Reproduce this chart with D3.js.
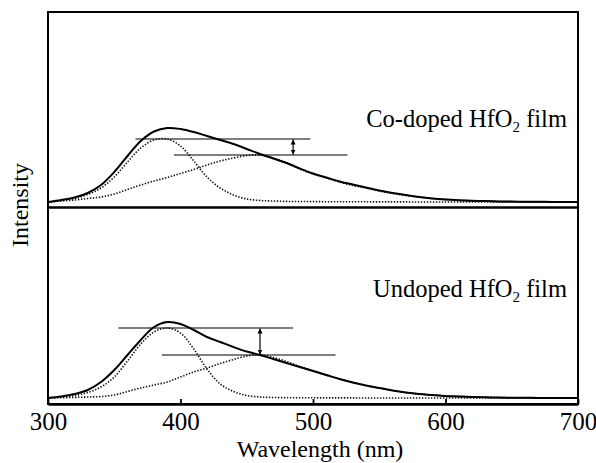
<!DOCTYPE html>
<html>
  <head>
    <style>
      body { margin: 0; background: #fff; }
      svg { font-family: "Liberation Serif", "DejaVu Serif", serif; }
      .total { fill: none; stroke: #000; stroke-width: 2; }
      .peak { fill: none; stroke: #111; stroke-width: 1.6; stroke-dasharray: 1.4,1.6; }
      .level { stroke: #000; stroke-width: 1.1; }
      .frame { fill: none; stroke: #000; stroke-width: 2; }
    </style>
  </head>
  <body>
    <svg width="596" height="463"></svg>
    <script src="https://d3js.org/d3.v7.min.js"></script>
    <script>
      // wavelength grid (nm)
      const wavelength = [300, 310, 320, 330, 340, 350, 360, 370, 380, 390, 400, 410, 420, 430, 440, 450, 460, 470, 480, 490, 500,
                          510, 520, 530, 540, 550, 560, 570, 580, 590, 600, 610, 620, 630, 640, 650, 660, 670, 680, 690, 700];

      // Co-doped film (arb. units)
      const coTotal = [0, 2, 4.5, 9, 17, 30, 46, 61, 70.5, 74, 73, 70, 66, 62, 58, 53, 48, 43.5, 39, 33.5, 28.5,
                       24.5, 20.5, 17.5, 14.5, 11.5, 9, 7, 5, 3.5, 2.5, 1.8, 1.3, 0.9, 0.6, 0.4, 0.3, 0.2, 0.1, 0, 0];
      const coPeak1 = [0, 1.5, 3.5, 7.5, 14, 25, 40, 54, 62, 63, 56, 41, 25, 14, 7, 3, 1.5, 1, 0.6, 0.5, 0.4,
                       0.3, 0.3, 0.2, 0.2, 0.1, 0.1, 0.1, 0, 0, 0, 0, 0, 0, 0, 0, 0, 0, 0, 0, 0];
      const coPeak2 = [0, 1, 2, 3.5, 5, 8, 12.5, 17, 21, 24.5, 28.5, 32.5, 37, 41, 44, 46.5, 47, 44, 39.5, 33, 28,
                       24, 20, 16.5, 14, 11, 8.5, 6.5, 5, 3.5, 2.5, 1.8, 1.2, 0.8, 0.5, 0.3, 0.2, 0.1, 0, 0, 0];
      const coLevels = [[63, 366, 498], [47, 395, 526]];   // [value, from nm, to nm]
      const coArrow = 485;

      // Undoped film (arb. units)
      const unTotal = [0, 1.5, 4, 8, 16, 28, 43, 58, 71, 76, 74, 68, 61, 56, 51, 46.5, 43, 39, 35, 31, 27,
                       23, 19, 15.5, 12.5, 10, 7.5, 5.5, 4, 3, 2, 1.5, 1, 0.7, 0.5, 0.3, 0.2, 0.1, 0, 0, 0];
      const unPeak1 = [0, 1, 2.5, 5.5, 11, 21, 37, 54, 66, 70, 65, 49, 29, 14, 6.5, 2.5, 1, 0.5, 0.3, 0.2, 0.2,
                       0.1, 0.1, 0.1, 0, 0, 0, 0, 0, 0, 0, 0, 0, 0, 0, 0, 0, 0, 0, 0, 0];
      const unPeak2 = [0, 0.3, 0.6, 1, 1.5, 3, 6.5, 10, 13, 16, 21, 26, 30, 34.5, 38.5, 42, 43, 40.5, 36.5, 31.5, 27.5,
                       23, 19, 15.5, 12.5, 10, 7.5, 5.5, 4, 3, 2, 1.4, 1, 0.7, 0.4, 0.3, 0.2, 0.1, 0, 0, 0];
      const unLevels = [[70, 353, 485], [43, 386, 517]];
      const unArrow = 460;

      const xTicks = [300, 400, 500, 600, 700];

      const svg = d3.select('svg');
      const plotLeft = 48, plotRight = 578, plotTop = 12, plotMid = 207.5, plotBottom = 404;

      const x = d3.scaleLinear().domain([300, 700]).range([plotLeft, plotRight]);
      const yCo = d3.scaleLinear().domain([0, 190]).range([202, 12]);
      const yUn = d3.scaleLinear().domain([0, 190]).range([398, 208]);

      const defs = svg.append('defs');
      ['start', 'end'].forEach(function(k) {
        defs.append('marker')
          .attr('id', 'head-' + k)
          .attr('viewBox', '0 0 10 10')
          .attr('refX', 10).attr('refY', 5)
          .attr('markerWidth', 5).attr('markerHeight', 7)
          .attr('markerUnits', 'userSpaceOnUse')
          .attr('orient', k == 'start' ? 'auto-start-reverse' : 'auto')
          .append('path')
          .attr('d', 'M0,0L10,5L0,10z')
          .attr('fill', '#000');
      });

      function drawPanel(y, total, p1, p2, levels, arrowAt, label) {
        const line = d3.line()
          .x((d, i) => x(wavelength[i]))
          .y(d => y(Math.max(0, d)))
          .curve(d3.curveCatmullRom.alpha(0.5));

        const g = svg.append('g');
        g.append('path').attr('class', 'peak').attr('d', line(p1));
        g.append('path').attr('class', 'peak').attr('d', line(p2));
        g.append('path').attr('class', 'total').attr('d', line(total));

        g.selectAll('line.level')
          .data(levels)
          .enter()
          .append('line')
          .attr('class', 'level')
          .attr('x1', d => x(d[1]))
          .attr('x2', d => x(d[2]))
          .attr('y1', d => y(d[0]))
          .attr('y2', d => y(d[0]));

        g.append('line')
          .attr('x1', x(arrowAt)).attr('x2', x(arrowAt))
          .attr('y1', y(levels[0][0]) + 0.5)
          .attr('y2', y(levels[1][0]) - 0.5)
          .attr('stroke', '#000')
          .attr('stroke-width', 1.2)
          .attr('marker-start', 'url(#head-start)')
          .attr('marker-end', 'url(#head-end)');

        const t = g.append('text')
          .attr('x', 567)
          .attr('y', label.y)
          .attr('text-anchor', 'end')
          .attr('font-size', 24.5);
        t.append('tspan').text(label.text + ' HfO');
        t.append('tspan').attr('font-size', 15).attr('dy', 5).text('2');
        t.append('tspan').attr('dy', -5).text(' film');
      }

      drawPanel(yCo, coTotal, coPeak1, coPeak2, coLevels, coArrow, { text: 'Co-doped', y: 127 });
      drawPanel(yUn, unTotal, unPeak1, unPeak2, unLevels, unArrow, { text: 'Undoped', y: 297 });

      // frame
      svg.append('rect')
        .attr('class', 'frame')
        .attr('x', plotLeft).attr('y', plotTop)
        .attr('width', plotRight - plotLeft).attr('height', plotBottom - plotTop);
      svg.append('line')
        .attr('x1', plotLeft).attr('x2', plotRight)
        .attr('y1', plotMid).attr('y2', plotMid)
        .attr('stroke', '#000').attr('stroke-width', 2.5);

      const xAxis = svg.append('g')
        .attr('transform', 'translate(0,' + plotBottom + ')')
        .call(d3.axisBottom(x).tickValues(xTicks).tickFormat(d3.format('d'))
          .tickSizeInner(-5).tickSizeOuter(0).tickPadding(8));
      xAxis.select('.domain').attr('stroke-width', 2.5);
      xAxis.selectAll('.tick line').attr('stroke-width', 1.8);
      xAxis.selectAll('.tick text')
        .attr('font-family', '"Liberation Serif", serif')
        .attr('font-size', 25)
        .attr('fill', '#000');

      svg.append('text')
        .attr('x', 320).attr('y', 457)
        .attr('text-anchor', 'middle')
        .attr('font-size', 24)
        .text('Wavelength (nm)');

      svg.append('text')
        .attr('transform', 'translate(28,205) rotate(-90)')
        .attr('text-anchor', 'middle')
        .attr('font-size', 24)
        .text('Intensity');
    </script>
  </body>
</html>
